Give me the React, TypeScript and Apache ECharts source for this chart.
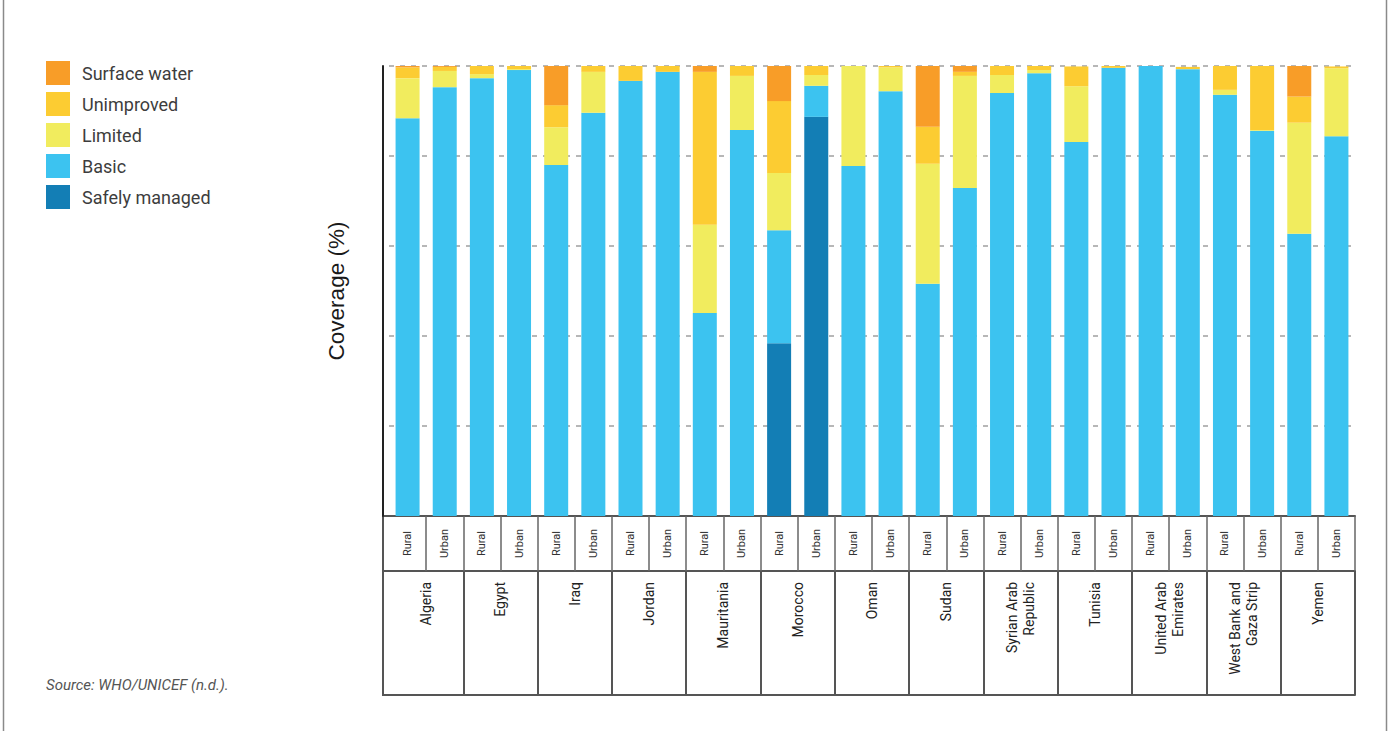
import React, { useEffect, useRef } from "react";
import * as echarts from "echarts";

const countries = [
  "Algeria",
  "Egypt",
  "Iraq",
  "Jordan",
  "Mauritania",
  "Morocco",
  "Oman",
  "Sudan",
  "Syrian Arab\nRepublic",
  "Tunisia",
  "United Arab\nEmirates",
  "West Bank and\nGaza Strip",
  "Yemen",
];
const settings = ["Rural", "Urban"];
const categories = countries.flatMap(() => settings);

const safelyManaged = [0, 0, 0, 0, 0, 0, 0, 0, 0, 0, 38.4, 88.7, 0, 0, 0, 0, 0, 0, 0, 0, 0, 0, 0, 0, 0, 0];
const basic = [88.4, 95.3, 97.3, 99.1, 78.0, 89.6, 96.7, 98.7, 45.1, 85.8, 25.1, 6.9, 77.8, 94.4, 51.6, 72.9, 94.0, 98.4, 83.1, 99.6, 100, 99.3, 93.6, 85.6, 62.7, 84.4];
const limited = [8.9, 3.6, 0.9, 0.2, 8.4, 9.1, 0, 0, 19.6, 12.0, 12.7, 2.4, 22.2, 5.3, 26.7, 24.9, 4.0, 0.7, 12.4, 0, 0, 0, 1.1, 0.2, 24.7, 15.1];
const unimproved = [2.4, 0.9, 1.8, 0.7, 4.9, 1.3, 3.3, 1.3, 34.0, 2.2, 16.0, 2.0, 0, 0.3, 8.2, 0.9, 2.0, 0.9, 4.4, 0.4, 0, 0.5, 5.3, 14.2, 5.8, 0.4];
const surfaceWater = [0.3, 0.2, 0, 0, 8.7, 0, 0, 0, 1.3, 0, 7.8, 0, 0, 0, 13.6, 1.3, 0, 0, 0, 0, 0, 0, 0, 0, 6.9, 0];

const seriesDefs = [
  { name: "Safely managed", data: safelyManaged, color: "#137EB5" },
  { name: "Basic", data: basic, color: "#3CC3F0" },
  { name: "Limited", data: limited, color: "#F1EC5E" },
  { name: "Unimproved", data: unimproved, color: "#FCCC32" },
  { name: "Surface water", data: surfaceWater, color: "#F89D28" },
];
const legendOrder = ["Surface water", "Unimproved", "Limited", "Basic", "Safely managed"];

const GL = 389;
const GR = 1355;
const GT = 66;
const GB = 516;
const ROW1 = 55;
const ROW2 = 124;
const TABLE = "#555555";

export default function App() {
  const ref = useRef<HTMLDivElement>(null);
  useEffect(() => {
    document.body.style.margin = "0";
    const chart = echarts.init(ref.current!, null, { renderer: "svg" });
    chart.setOption({
      animation: false,
      textStyle: { fontFamily: "Roboto" },
      grid: { left: GL, right: 1389 - GR, top: GT, bottom: 731 - GB, containLabel: false },
      legend: {
        orient: "vertical",
        left: 46,
        top: 61,
        padding: 0,
        itemWidth: 24,
        itemHeight: 24,
        itemGap: 7,
        icon: "rect",
        data: legendOrder,
        selectedMode: false,
        textStyle: { fontSize: 18, color: "#3d3d3d", fontFamily: "Roboto", padding: [0, 0, 0, 7] },
      },
      xAxis: [
        {
          type: "category",
          data: categories,
          position: "bottom",
          axisLine: { show: true, lineStyle: { color: TABLE, width: 2 } },
          axisTick: {
            show: true,
            length: ROW1,
            interval: (idx: number) => idx !== 0,
            lineStyle: { color: "#666", width: 1.5 },
          },
          axisLabel: {
            interval: 0,
            rotate: 90,
            align: "center",
            verticalAlign: "middle",
            margin: ROW1 / 2,
            fontSize: 11,
            color: "#333",
          },
        },
        {
          type: "category",
          data: countries,
          position: "bottom",
          offset: ROW1,
          axisLine: { show: true, lineStyle: { color: TABLE, width: 2 } },
          axisTick: {
            show: true,
            length: ROW2,
            interval: (idx: number) => idx !== 0,
            lineStyle: { color: TABLE, width: 2 },
          },
          axisLabel: {
            interval: 0,
            rotate: 90,
            margin: 11,
            fontSize: 14,
            lineHeight: 17,
            color: "#222",
          },
        },
        {
          type: "category",
          data: countries,
          position: "bottom",
          offset: ROW1 + ROW2,
          axisLine: { show: true, lineStyle: { color: TABLE, width: 2 } },
          axisTick: { show: false },
          axisLabel: { show: false },
        },
      ],
      yAxis: {
        type: "value",
        min: 0,
        max: 100,
        interval: 20,
        offset: 6,
        name: "Coverage (%)",
        nameLocation: "middle",
        nameGap: 35,
        nameTextStyle: { fontSize: 22.5, color: "#1a1a1a", fontFamily: "Liberation Sans" },
        axisLine: { show: true, lineStyle: { color: "#222", width: 2 } },
        axisTick: { show: false },
        axisLabel: { show: false },
        splitLine: { show: true, lineStyle: { color: "#a0a0a0", width: 1.5, type: [5, 6] } },
      },
      series: seriesDefs.map((s) => ({
        name: s.name,
        type: "bar",
        stack: "total",
        xAxisIndex: 0,
        barWidth: 24,
        data: s.data,
        itemStyle: { color: s.color },
      })),
      graphic: [
        {
          type: "polyline",
          shape: {
            points: [
              [GL, GB],
              [383, GB],
              [383, GB + ROW1 + ROW2],
              [GL, GB + ROW1 + ROW2],
            ],
          },
          style: { stroke: TABLE, lineWidth: 2, fill: null },
        },
        {
          type: "line",
          shape: { x1: 383, y1: GB + ROW1, x2: GL, y2: GB + ROW1 },
          style: { stroke: TABLE, lineWidth: 2 },
        },
        {
          type: "line",
          shape: { x1: 3.5, y1: 0, x2: 3.5, y2: 731 },
          style: { stroke: "#8a8a8a", lineWidth: 1.5 },
        },
        {
          type: "line",
          shape: { x1: 1386.5, y1: 0, x2: 1386.5, y2: 731 },
          style: { stroke: "#8a8a8a", lineWidth: 1.5 },
        },
        {
          type: "text",
          left: 46,
          top: 677,
          style: {
            text: "Source: WHO/UNICEF (n.d.).",
            fontSize: 15,
            fontStyle: "italic",
            fill: "#555",
            fontFamily: "Roboto",
          },
        },
      ],
    });
    return () => chart.dispose();
  }, []);
  return <div ref={ref} style={{ width: 1389, height: 731 }} />;
}
